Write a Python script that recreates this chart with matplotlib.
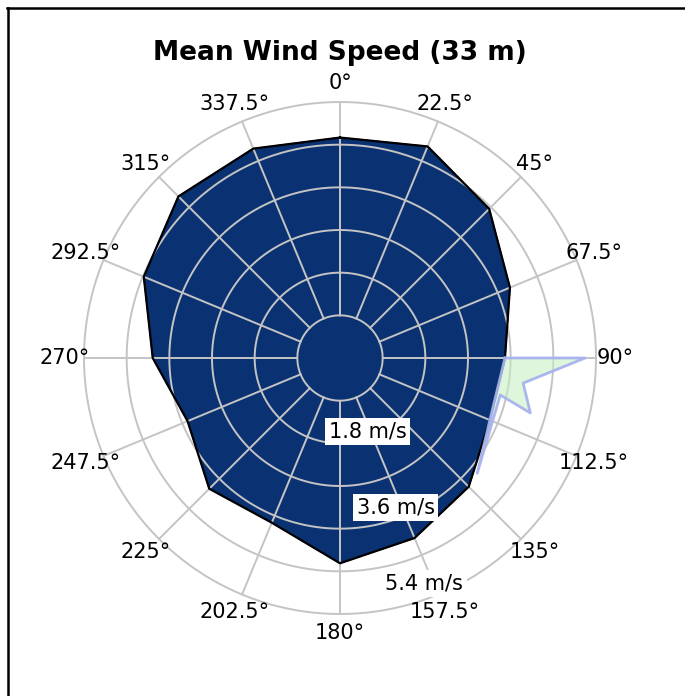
import numpy as np
import matplotlib
matplotlib.use('Agg')
import matplotlib.pyplot as plt
from matplotlib.lines import Line2D

# wind directions (deg, clockwise from north) and mean speed (m/s)
directions = [0, 22.5, 45, 67.5, 90, 112.5, 135, 157.5,
              180, 202.5, 225, 247.5, 270, 292.5, 315, 337.5]
speeds = [4.65, 4.83, 4.45, 3.88, 3.48, 3.42, 3.84, 4.11,
          4.33, 3.76, 3.90, 3.48, 3.95, 4.48, 4.82, 4.78]

# rings and labelled rings
rings = [0.9, 1.8, 2.7, 3.6, 4.5, 5.4]
ring_labels = [1.8, 3.6, 5.4]

# the glitchy light blue/green shape near 90 deg
glitch_dir = [90, 90, 97.8, 106.1, 103, 130, 112.5]
glitch_r = [3.48, 5.17, 3.90, 4.18, 3.47, 3.78, 3.42]

fig = plt.figure(figsize=(6.85, 6.96), dpi=100)
W, H = 685, 696
cx, cy, R = 340, 358, 256
ax = fig.add_axes([(cx - R) / W, (H - cy - R) / H, 2 * R / W, 2 * R / H],
                  projection='polar')
ax.set_theta_zero_location('N')
ax.set_theta_direction(-1)
ax.set_ylim(0, rings[-1])
ax.grid(False)
ax.spines['polar'].set_visible(False)
ax.set_xticks([])
ax.set_yticks([])
ax.patch.set_alpha(0)

th = np.deg2rad(directions + [directions[0]])
sp = speeds + [speeds[0]]
ax.fill(th, sp, color='#0a3273', zorder=1)

gc = '#c4c4c4'
tt = np.linspace(0, 2 * np.pi, 361)
for r in rings:
    ax.plot(tt, [r] * len(tt), color=gc, lw=1.4, zorder=2, clip_on=False)
for d in directions:
    ax.plot([np.deg2rad(d)] * 2, [rings[0], rings[-1]], color=gc, lw=1.4,
            zorder=2, clip_on=False)

ax.plot(th, sp, color='black', lw=1.6, zorder=3)

gt = np.deg2rad(glitch_dir + [glitch_dir[0]])
gr = glitch_r + [glitch_r[0]]
ax.fill(gt, gr, color='#c4f0c0', alpha=0.55, zorder=4)
ax.plot(gt, gr, color='#a4b0f0', lw=2, alpha=0.9, zorder=4)

# direction labels
for d in directions:
    ax.text(np.deg2rad(d), rings[-1] * 275 / 256, '%g°' % d, fontsize=15,
            ha='center', va='center', clip_on=False, zorder=5)

# ring labels
for v in ring_labels:
    ax.text(np.deg2rad(159.5), v * 0.95 - 0.05, '%g m/s' % v, fontsize=15,
            ha='center', va='center', zorder=6,
            bbox=dict(facecolor='white', edgecolor='none', pad=2.5))

fig.text(cx / W, 1 - 53 / H, 'Mean Wind Speed (33 m)', fontsize=19,
         fontweight='bold', ha='center', va='center')

# frame on top and left
fig.add_artist(Line2D([7 / W, 684 / W], [1 - 8 / H, 1 - 8 / H],
                      color='black', lw=1.8, transform=fig.transFigure))
fig.add_artist(Line2D([8 / W, 8 / W], [0, 1 - 8 / H],
                      color='black', lw=1.8, transform=fig.transFigure))

fig.savefig('out.png', dpi=100)
